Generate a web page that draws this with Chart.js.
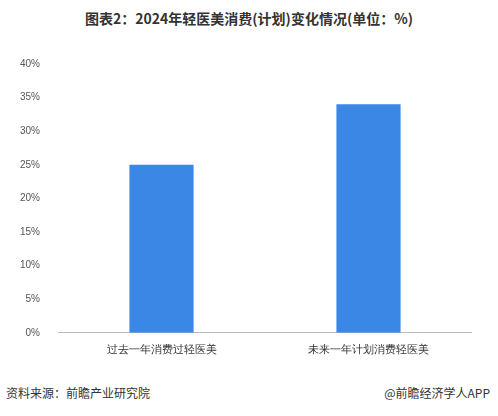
<!DOCTYPE html>
<html>
<head>
<meta charset="utf-8">
<script src="https://cdn.jsdelivr.net/npm/chart.js@4"></script>
<style>
  body { margin: 0; background: #fff; font-family: "Noto Sans CJK SC", sans-serif; }
  #wrap { position: relative; width: 498px; height: 416px; }
  #title { position: absolute; top: 8px; width: 498px; text-align: center; font-size: 14px; font-weight: bold; color: #333; }
  #box { position: absolute; left: 0; top: 48px; width: 472px; height: 312px; }
  .foot { position: absolute; top: 384px; font-size: 12px; color: #333; }
</style>
</head>
<body>
<div id="wrap">
  <div id="title">图表2：2024年轻医美消费(计划)变化情况(单位：%)</div>
  <div id="box"><canvas id="chart"></canvas></div>
  <div class="foot" style="left:6px">资料来源：前瞻产业研究院</div>
  <div class="foot" style="right:8px">@前瞻经济学人APP</div>
</div>
<script>
// 数据
const categories = ['过去一年消费过轻医美', '未来一年计划消费轻医美'];
const values = [25, 34];

new Chart(document.getElementById('chart'), {
    type: 'bar',
    data: {
        labels: categories,
        datasets: [{
            data: values,
            backgroundColor: '#3a87e6',
            categoryPercentage: 1,
            barPercentage: 0.31
        }]
    },
    options: {
        responsive: true,
        maintainAspectRatio: false,
        animation: false,
        layout: { padding: { left: 10, top: 8 } },
        plugins: { legend: { display: false }, tooltip: { enabled: false } },
        scales: {
            x: {
                grid: { display: false },
                border: { color: '#bbb' },
                ticks: { color: '#333', font: { size: 11 } }
            },
            y: {
                min: 0, max: 40,
                grid: { display: false },
                border: { display: false },
                ticks: { stepSize: 5, color: '#555', font: { size: 10 }, padding: 10,
                    callback: v => v + '%' }
            }
        }
    }
});
</script>
</body>
</html>
